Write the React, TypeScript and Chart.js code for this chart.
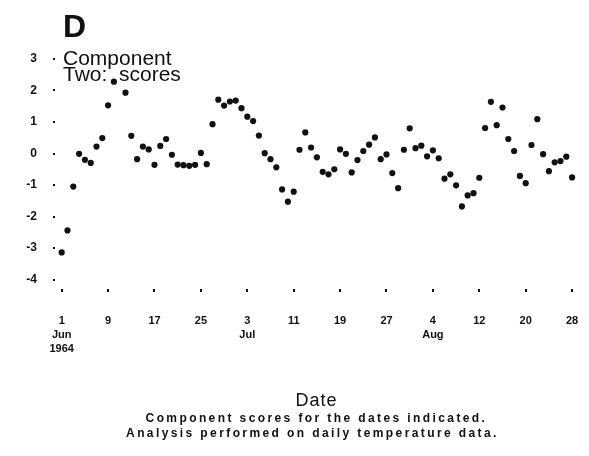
import React, { useEffect, useRef } from "react";
import { Chart, registerables } from "chart.js";

Chart.register(...registerables);

// ---- data ----
const panelLetter = "D";
const titleLines = ["Component", "Two:  scores"];
const xTitle = "Date";
const captionLines = [
  "Component scores for the dates indicated.",
  "Analysis performed on daily temperature data.",
];

// day offsets from 1 Jun 1964 at which date labels appear
const tickDays = [0, 8, 16, 24, 32, 40, 48, 56, 64, 72, 80, 88];
const tickLabels = [
  ["1", "Jun", "1964"],
  ["9"],
  ["17"],
  ["25"],
  ["3", "Jul"],
  ["11"],
  ["19"],
  ["27"],
  ["4", "Aug"],
  ["12"],
  ["20"],
  ["28"],
];
const yTicks = [-4, -3, -2, -1, 0, 1, 2, 3];

// daily component-two scores, 1 Jun 1964 .. 28 Aug 1964 (null = not visible)
const scores = [
  -3.14, -2.44, -1.05, -0.01, -0.2, -0.3, 0.22, 0.49, 1.53, 2.28,
  null, 1.93, 0.56, -0.18, 0.22, 0.13, -0.36, 0.24, 0.46, -0.04,
  -0.35, -0.37, -0.39, -0.36, 0.02, -0.34, 0.93, 1.71, 1.52, 1.65,
  1.68, 1.44, 1.17, 1.03, 0.57, 0.01, -0.18, -0.44, -1.14, -1.53,
  -1.21, 0.12, 0.67, 0.19, -0.12, -0.58, -0.66, -0.5, 0.13, -0.01,
  -0.6, -0.21, 0.08, 0.28, 0.51, -0.18, -0.03, -0.62, -1.1, 0.12,
  0.8, 0.17, 0.25, -0.09, 0.1, -0.15, -0.8, -0.66, -1.01, -1.68,
  -1.33, -1.26, -0.77, 0.81, 1.64, 0.9, 1.46, 0.46, 0.08, -0.71,
  -0.94, 0.27, 1.09, -0.02, -0.56, -0.28, -0.24, -0.1, -0.76,
];

const FONT = "'Liberation Sans', Arial, Helvetica, sans-serif";
const INK = "#111111";
const W = 573;
const H = 440;

export default function App() {
  const ref = useRef<HTMLCanvasElement>(null);

  useEffect(() => {
    if (!ref.current) return;

    const points = scores
      .map((v, i) => (v === null ? null : { x: i, y: v }))
      .filter((p) => p !== null) as { x: number; y: number }[];

    const textPlugin = {
      id: "panelTexts",
      afterDraw(chart: any) {
        const ctx = chart.ctx as CanvasRenderingContext2D;
        const ca = chart.chartArea;
        ctx.save();
        ctx.fillStyle = INK;
        ctx.textBaseline = "alphabetic";
        ctx.textAlign = "left";
        ctx.font = `bold 32px ${FONT}`;
        ctx.fillText(panelLetter, ca.left + 8, 29);
        ctx.font = `21px ${FONT}`;
        ctx.fillText(titleLines[0], ca.left + 8, 57);
        ctx.fillText(titleLines[1], ca.left + 8, 73);

        const cx = (ca.left + ca.right) / 2;
        ctx.textAlign = "center";
        (ctx as any).letterSpacing = "1px";
        ctx.font = `18px ${FONT}`;
        ctx.fillText(xTitle, cx, 398);
        (ctx as any).letterSpacing = "2.4px";
        ctx.font = `bold 12px ${FONT}`;
        ctx.fillText(captionLines[0], cx, 414);
        ctx.fillText(captionLines[1], cx - 4, 429);
        (ctx as any).letterSpacing = "0px";
        ctx.restore();
      },
    };

    const chart = new Chart(ref.current, {
      type: "scatter",
      data: {
        datasets: [
          {
            data: points,
            backgroundColor: INK,
            borderColor: INK,
            pointRadius: 3.1,
            pointHoverRadius: 3.1,
            borderWidth: 0,
          },
        ],
      },
      options: {
        animation: false,
        responsive: false,
        devicePixelRatio: 1,
        layout: { padding: { top: 46, right: 3, left: 0, bottom: 92 } },
        plugins: {
          legend: { display: false },
          tooltip: { enabled: false },
          title: { display: false },
        },
        scales: {
          x: {
            type: "linear",
            min: -1.155,
            max: 89,
            border: { display: false },
            grid: {
              drawOnChartArea: false,
              drawTicks: true,
              tickLength: 3,
              lineWidth: 2,
              color: INK,
            },
            afterBuildTicks: (scale: any) => {
              scale.ticks = tickDays.map((d) => ({ value: d }));
            },
            afterFit: (scale: any) => {
              scale.height = 67;
              scale.paddingLeft = 0;
              scale.paddingRight = 0;
            },
            ticks: {
              autoSkip: false,
              maxRotation: 0,
              padding: 22,
              color: INK,
              font: { family: FONT, size: 11, weight: "bold", lineHeight: 1.27 },
              callback: (value: any) => {
                const idx = tickDays.indexOf(Number(value));
                return idx >= 0 ? tickLabels[idx] : "";
              },
            },
          },
          y: {
            type: "linear",
            min: -4.3,
            max: 3.158,
            border: { display: false },
            grid: {
              drawOnChartArea: false,
              drawTicks: true,
              tickLength: 2,
              lineWidth: 2,
              color: INK,
            },
            afterBuildTicks: (scale: any) => {
              scale.ticks = yTicks.map((v) => ({ value: v }));
            },
            afterFit: (scale: any) => {
              scale.width = 47;
              scale.paddingTop = 0;
              scale.paddingBottom = 0;
            },
            ticks: {
              padding: 16,
              color: INK,
              font: { family: FONT, size: 12, weight: "bold" },
              callback: (value: any) => String(value),
            },
          },
        },
      },
      plugins: [textPlugin],
    });

    return () => chart.destroy();
  }, []);

  return (
    <div style={{ width: W, height: H }}>
      <canvas ref={ref} width={W} height={H} style={{ display: "block", width: W, height: H }} />
    </div>
  );
}
